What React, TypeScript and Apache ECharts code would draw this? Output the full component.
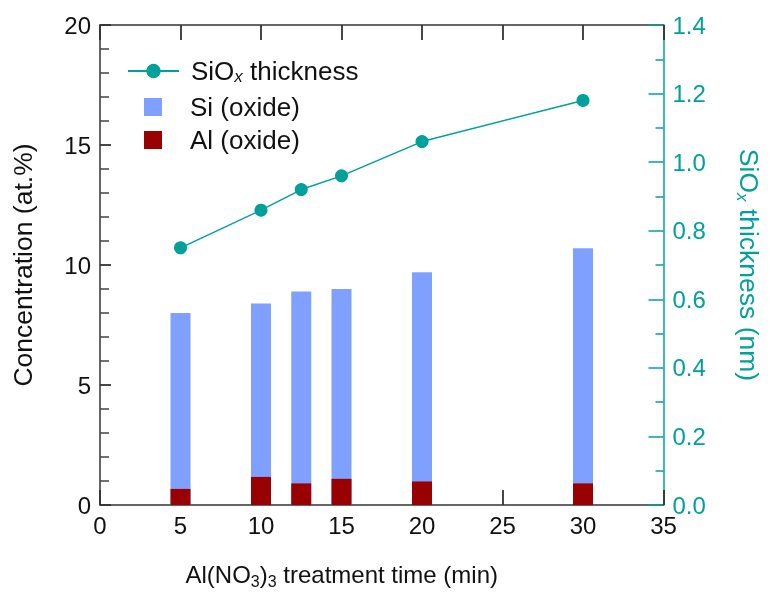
import React, { useEffect, useRef } from "react";
import * as echarts from "echarts";

const times = [5, 10, 12.5, 15, 20, 30];
const siOxide = [8.0, 8.4, 8.9, 9.0, 9.7, 10.7];
const alOxide = [0.67, 1.17, 0.9, 1.09, 0.98, 0.9];
const thickness = [0.75, 0.86, 0.92, 0.96, 1.06, 1.18];

const TEAL = "#00a19a";
const SI_COLOR = "#80a0ff";
const AL_COLOR = "#990000";
const AXIS = "#333333";
const TXT = "#111";
const FONT = "Liberation Sans";

export default function App() {
  const ref = useRef<HTMLDivElement>(null);
  useEffect(() => {
    if (!ref.current) return;
    const chart = echarts.init(ref.current, null, { renderer: "svg" });
    const subRich = (color: string, italic: boolean, size: number, subSize: number) => ({
      a: { fontSize: size, fontFamily: FONT, color, lineHeight: 30 },
      s: {
        fontSize: subSize,
        fontFamily: FONT,
        color,
        lineHeight: 16,
        verticalAlign: "bottom" as const,
        fontStyle: italic ? ("italic" as const) : ("normal" as const),
      },
    });
    chart.setOption({
      animation: false,
      grid: { left: 100, right: 102, top: 25, bottom: 85 },
      legend: [
        {
          data: ["SiOx thickness"],
          left: 127,
          top: 57,
          padding: 0,
          itemWidth: 51,
          itemHeight: 18,
          textStyle: {
            fontSize: 26,
            fontFamily: FONT,
            color: TXT,
            lineHeight: 28,
            padding: [0, 0, 0, 7],
            rich: {
              a: { fontSize: 26, fontFamily: FONT, color: TXT, lineHeight: 28 },
              s: { fontSize: 17, fontFamily: FONT, color: TXT, lineHeight: 14, verticalAlign: "bottom", fontStyle: "italic" },
            },
          },
          formatter: () => "{a|SiO}{s|x}{a| thickness}",
          selectedMode: false,
        },
        {
          data: ["Si (oxide)", "Al (oxide)"],
          orient: "vertical",
          left: 144,
          top: 93,
          padding: 0,
          itemWidth: 18,
          itemHeight: 18,
          itemGap: 5,
          icon: "rect",
          textStyle: {
            fontSize: 26,
            fontFamily: FONT,
            color: TXT,
            lineHeight: 28,
            padding: [0, 0, 0, 23],
          },
          selectedMode: false,
        },
      ],
      xAxis: [
        {
          type: "value",
          min: 0,
          max: 35,
          interval: 5,
          position: "bottom",
          name: "{a|Al(NO}{s|3}{a|)}{s|3}{a| treatment time (min)}",
          nameLocation: "middle",
          nameGap: 54,
          nameTextStyle: { rich: subRich(TXT, false, 24, 16), padding: [0, 80, 0, 0] },
          axisLine: { show: true, onZero: false, lineStyle: { color: AXIS, width: 1.5 } },
          axisTick: { show: true, inside: true, length: 15, lineStyle: { color: AXIS, width: 1.8 } },
          axisLabel: { fontSize: 24, fontFamily: FONT, color: TXT, margin: 8 },
          splitLine: { show: false },
        },
        {
          type: "value",
          min: 0,
          max: 35,
          interval: 5,
          position: "top",
          axisLine: { show: true, onZero: false, lineStyle: { color: AXIS, width: 1.5 } },
          axisTick: { show: true, inside: true, length: 15, lineStyle: { color: AXIS, width: 1.8 } },
          axisLabel: { show: false },
          splitLine: { show: false },
        },
      ],
      yAxis: [
        {
          type: "value",
          min: 0,
          max: 20,
          interval: 5,
          position: "left",
          name: "Concentration (at.%)",
          nameLocation: "middle",
          nameGap: 62,
          nameTextStyle: { fontSize: 26.5, fontFamily: FONT, color: TXT, lineHeight: 30 },
          axisLine: { show: true, onZero: false, lineStyle: { color: AXIS, width: 1.5 } },
          axisTick: { show: true, inside: true, length: 11, lineStyle: { color: AXIS, width: 1.8 } },
          minorTick: { show: true, splitNumber: 5, length: 9, lineStyle: { color: "#444", width: 1.5 } },
          axisLabel: { fontSize: 24, fontFamily: FONT, color: TXT, margin: 9 },
          splitLine: { show: false },
        },
        {
          type: "value",
          min: 0,
          max: 1.4,
          interval: 0.2,
          position: "right",
          name: "{a|SiO}{s|x}{a| thickness (nm)}",
          nameLocation: "middle",
          nameRotate: -90,
          nameGap: 70,
          nameTextStyle: { rich: subRich(TEAL, true, 26.5, 17) },
          axisLine: { show: true, onZero: false, lineStyle: { color: TEAL, width: 1.5 } },
          axisTick: { show: true, inside: true, length: 15, lineStyle: { color: TEAL, width: 1.5 } },
          minorTick: { show: true, splitNumber: 2, length: 8, lineStyle: { color: TEAL, width: 1.5 } },
          axisLabel: {
            fontSize: 24,
            fontFamily: FONT,
            color: TEAL,
            margin: 9,
            formatter: (v: number) => v.toFixed(1),
          },
          splitLine: { show: false },
        },
      ],
      series: [
        {
          name: "Si (oxide)",
          type: "bar",
          xAxisIndex: 0,
          yAxisIndex: 0,
          barWidth: 20,
          barGap: "-100%",
          itemStyle: { color: SI_COLOR },
          data: times.map((t, i) => [t, siOxide[i]]),
        },
        {
          name: "Al (oxide)",
          type: "bar",
          xAxisIndex: 0,
          yAxisIndex: 0,
          barWidth: 20,
          barGap: "-100%",
          itemStyle: { color: AL_COLOR },
          data: times.map((t, i) => [t, alOxide[i]]),
        },
        {
          name: "SiOx thickness",
          type: "line",
          xAxisIndex: 0,
          yAxisIndex: 1,
          symbol: "circle",
          symbolSize: 13,
          lineStyle: { color: TEAL, width: 1.5 },
          itemStyle: { color: TEAL },
          data: times.map((t, i) => [t, thickness[i]]),
          z: 5,
        },
      ],
    });
    return () => chart.dispose();
  }, []);
  return (
    <div
      ref={ref}
      style={{ position: "fixed", left: 0, top: 0, width: 770, height: 594 }}
    />
  );
}
